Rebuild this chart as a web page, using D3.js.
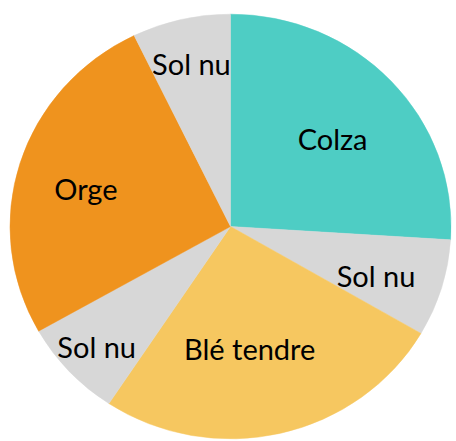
<!DOCTYPE html>
<html>
<head>
<meta charset="utf-8">
<script src="https://cdn.jsdelivr.net/npm/d3@7"></script>
<style>
  html, body { margin: 0; padding: 0; background: #fff; }
  svg { display: block; }
</style>
</head>
<body>
<div id="chart"></div>
<script>
// parts of the field, clockwise from 12 o'clock (percent)
const labels = ["Colza", "Sol nu", "Blé tendre", "Sol nu", "Orge", "Sol nu"];
const values = [26, 7.4, 25.9, 7.5, 26, 7.2];
const colors = ["#4ecdc4", "#d7d7d7", "#f6c760", "#d7d7d7", "#ef931e", "#d7d7d7"];
// label placement: share of the radius, and turn away from the slice middle (degrees)
const labelPos = [0.62, 0.70, 0.58, 0.83, 0.68, 0.79];
const labelTurn = [1.5, 2.5, 4.5, 0, -2, 0];

const width = 456, height = 441;
const R = 220.5, squash = 0.963;
const cx = 230.5, cy = 226.5;

const svg = d3.select("#chart").append("svg")
  .attr("width", width)
  .attr("height", height);

const datas = labels.map((l, i) => ({
  label: l, value: values[i], color: colors[i], lr: labelPos[i], turn: labelTurn[i]
}));

const pie = d3.pie().sort(null).value((d) => d.value);
const arcs = pie(datas);
const arc = d3.arc().innerRadius(0).outerRadius(R);

const chart = svg.append("g")
  .attr("transform", "translate(" + cx + "," + cy + ") scale(1," + squash + ")");

chart.selectAll("path")
  .data(arcs)
  .enter()
  .append("path")
  .attr("d", arc)
  .attr("fill", (d) => d.data.color)
  .attr("stroke", (d) => d.data.color)
  .attr("stroke-width", 0.5);

function labelPoint(d) {
  const r = R * d.data.lr;
  const a = (d.startAngle + d.endAngle) / 2 + (d.data.turn * Math.PI) / 180;
  const c = d3.arc().innerRadius(r).outerRadius(r).centroid({ startAngle: a, endAngle: a });
  return [cx + c[0], cy + squash * c[1]];
}

svg.append("g")
  .selectAll("text")
  .data(arcs)
  .enter()
  .append("text")
  .attr("x", (d) => labelPoint(d)[0])
  .attr("y", (d) => labelPoint(d)[1])
  .attr("text-anchor", "middle")
  .attr("dominant-baseline", "central")
  .attr("font-family", "Lato, 'Open Sans', sans-serif")
  .attr("font-size", 29)
  .attr("fill", "#000")
  .text((d) => d.data.label);
</script>
</body>
</html>
